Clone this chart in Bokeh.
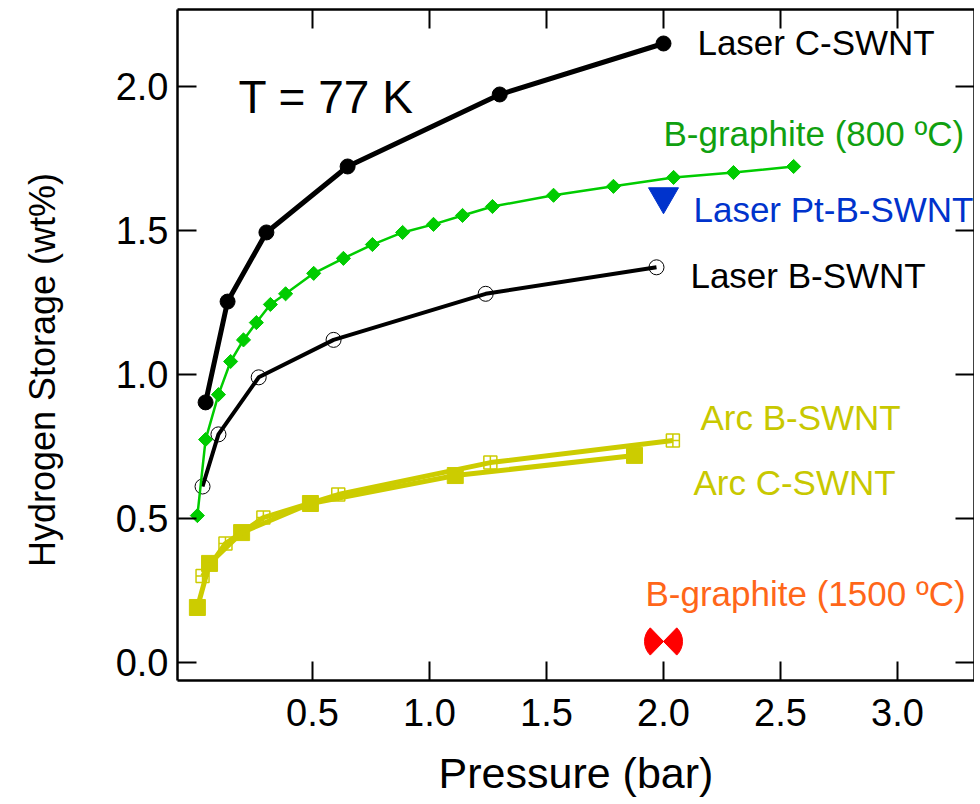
import math
from bokeh.plotting import figure
from bokeh.models import Range1d, LinearAxis, FixedTicker, NumeralTickFormatter, ColumnDataSource, LabelSet, Label
from bokeh.embed import file_html
from bokeh.resources import INLINE
from bokeh.core.properties import value, field

# ---------------- data ----------------
laser_c_x = [0.043, 0.137, 0.303, 0.65, 1.30, 2.0]
laser_c_y = [0.903, 1.253, 1.493, 1.722, 1.972, 2.149]

laser_b_x = [0.03, 0.098, 0.27, 0.59, 1.24, 1.97]
laser_b_y = [0.611, 0.792, 0.99, 1.12, 1.28, 1.372]

bg800_x = [0.008, 0.043, 0.098, 0.15, 0.205, 0.26, 0.32, 0.385, 0.505, 0.632,
           0.756, 0.885, 1.017, 1.141, 1.269, 1.53, 1.786, 2.043, 2.299, 2.556]
bg800_y = [0.51, 0.774, 0.93, 1.045, 1.12, 1.18, 1.243, 1.28, 1.351, 1.403,
           1.451, 1.493, 1.521, 1.552, 1.583, 1.622, 1.653, 1.684, 1.701, 1.722]

arc_b_x = [0.03, 0.128, 0.29, 0.61, 1.26, 2.04]
arc_b_y = [0.30, 0.413, 0.503, 0.583, 0.694, 0.771]

arc_c_x = [0.008, 0.06, 0.197, 0.491, 1.11, 1.876]
arc_c_y = [0.191, 0.344, 0.451, 0.552, 0.649, 0.719]

pt_x = [2.0]
pt_y = [1.618]

bg1500_x = [2.0]
bg1500_y = [0.073]

x_ticks = [0.5, 1.0, 1.5, 2.0, 2.5, 3.0]
y_ticks = [0.0, 0.5, 1.0, 1.5, 2.0]

label_text = ["Laser C-SWNT", "B-graphite (800 ºC)", "Laser Pt-B-SWNT", "Laser B-SWNT",
              "Arc B-SWNT", "Arc C-SWNT", "B-graphite (1500 ºC)"]
label_x = [2.145, 2.0, 2.128, 2.115, 2.158, 2.128, 1.923]
label_y = [2.151, 1.837, 1.571, 1.344, 0.851, 0.625, 0.240]
label_color = ["#000000", "#10a010", "#0033cc", "#000000", "#c8c800", "#c8c800", "#ff6619"]

temp_text = "T = 77 K"
temp_x = 0.184
temp_y = 1.962

x_title = "Pressure (bar)"
y_title = "Hydrogen Storage (wt%)"

FONT = "Liberation Sans"
YELLOW = "#cccc00"
GREEN = "#00cc00"
BLUE = "#0033cc"

p = figure(x_range=Range1d(-0.077, 3.329), y_range=Range1d(-0.0625, 2.267),
           frame_width=797, frame_height=671,
           output_backend="svg", toolbar_location=None,
           min_border_left=177, min_border_right=0, min_border_top=9, min_border_bottom=124,
           x_axis_label=x_title,
           # trailing no-break spaces nudge the centred title slightly downward, as in the reference
           y_axis_label=y_title + "\u00a0" * 5)
p.outline_line_color = None
p.grid.visible = False
p.background_fill_color = "white"

def style_axis(ax, ticks, show_labels):
    ax.ticker = FixedTicker(ticks=ticks)
    ax.formatter = NumeralTickFormatter(format="0.0")
    ax.axis_line_width = 2.5
    ax.axis_line_color = "black"
    ax.major_tick_line_width = 2
    ax.major_tick_in = 19
    ax.major_tick_out = 0
    ax.minor_tick_line_color = None
    ax.major_label_text_font = FONT
    ax.major_label_text_color = "black"
    ax.axis_label_text_font = FONT
    ax.axis_label_text_font_style = "normal"
    ax.axis_label_text_color = "black"
    if show_labels:
        ax.major_label_text_font_size = "38px"
    else:
        ax.major_label_overrides = {t: "" for t in ticks}
        ax.major_label_text_font_size = "1px"
        ax.major_label_standoff = 0

style_axis(p.xaxis[0], x_ticks, True)
style_axis(p.yaxis[0], y_ticks, True)
p.xaxis[0].major_label_standoff = 18
p.xaxis[0].axis_label_text_font_size = "43px"
p.xaxis[0].axis_label_standoff = 20
p.yaxis[0].major_label_standoff = 9
p.yaxis[0].axis_label_text_font_size = "36px"
p.yaxis[0].axis_label_standoff = 50

top_ax = LinearAxis()
style_axis(top_ax, x_ticks, False)
p.add_layout(top_ax, "above")
right_ax = LinearAxis()
style_axis(right_ax, y_ticks, False)
p.add_layout(right_ax, "right")

# Arc C-SWNT (filled squares)
p.line(arc_c_x, arc_c_y, line_color=YELLOW, line_width=5)
p.scatter(arc_c_x, arc_c_y, marker="square", size=16, fill_color=YELLOW, line_color=YELLOW)
# Arc B-SWNT (open crossed squares)
p.line(arc_b_x, arc_b_y, line_color=YELLOW, line_width=5)
p.scatter(arc_b_x, arc_b_y, marker="square_cross", size=13, fill_alpha=0,
          line_color=YELLOW, line_width=1.5)

# Laser B-SWNT (open circles)
p.line(laser_b_x, laser_b_y, line_color="black", line_width=4)
p.scatter(laser_b_x, laser_b_y, marker="circle", size=15, fill_alpha=0,
          line_color="black", line_width=1)

# Laser C-SWNT (filled circles)
p.line(laser_c_x, laser_c_y, line_color="black", line_width=5)
p.scatter(laser_c_x, laser_c_y, marker="circle", size=15, fill_color="black", line_color="black")

# B-graphite 800 C (diamonds)
p.line(bg800_x, bg800_y, line_color=GREEN, line_width=2.5)
p.scatter(bg800_x, bg800_y, marker="square", angle=math.pi / 4, size=10,
          fill_color=GREEN, line_color=GREEN)

# Laser Pt-B-SWNT (inverted triangle)
p.scatter(pt_x, pt_y, marker="inverted_triangle", size=30, fill_color=BLUE, line_color=BLUE)

# B-graphite 1500 C (bow tie)
p.wedge(x=bg1500_x * 2, y=bg1500_y * 2, radius=19, radius_units="screen",
        start_angle=[-0.8, math.pi - 0.8], end_angle=[0.8, math.pi + 0.8],
        fill_color="#ff0000", line_color="#ff0000")

# series labels
src = ColumnDataSource(dict(x=label_x, y=label_y, t=label_text, c=label_color))
p.add_layout(LabelSet(x="x", y="y", text="t", source=src, text_color=field("c"),
                      text_font=value(FONT), text_font_size="35px",
                      text_align="left", text_baseline="middle"))
p.add_layout(Label(x=temp_x, y=temp_y, text=temp_text, text_color="black",
                   text_font=FONT, text_font_size="46px",
                   text_align="left", text_baseline="middle"))

open("out.html", "w").write(file_html(p, INLINE))
